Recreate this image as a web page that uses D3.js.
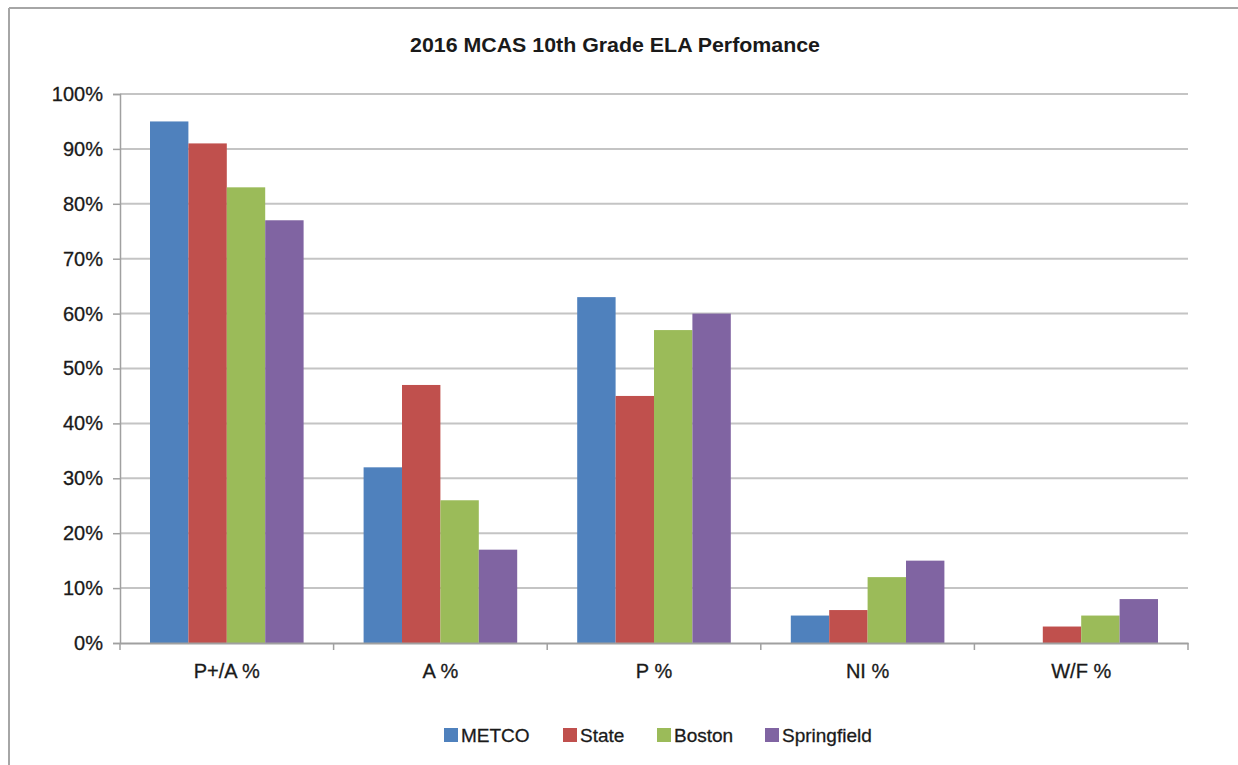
<!DOCTYPE html>
<html>
<head>
<meta charset="utf-8">
<script src="https://cdn.jsdelivr.net/npm/d3@7"></script>
<style>
  body { margin: 0; background: #fff; }
  text { font-family: "Liberation Sans", Arial, sans-serif; fill: #1a1a1a; }
</style>
</head>
<body>
<svg id="chart"></svg>
<script>
const categories = ['P+/A %', 'A %', 'P %', 'NI %', 'W/F %'];
const seriesNames = ['METCO', 'State', 'Boston', 'Springfield'];
const metco = [95, 32, 63, 5, 0];
const state = [91, 47, 45, 6, 3];
const boston = [83, 26, 57, 12, 5];
const springfield = [77, 17, 60, 15, 8];
const yTicks = [0, 10, 20, 30, 40, 50, 60, 70, 80, 90, 100];
const colors = ['#4F81BD', '#C0504D', '#9BBB59', '#8064A2'];

const seriesValues = [metco, state, boston, springfield];
const data = categories.map((c, i) => ({
  cat: c,
  vals: seriesNames.map((s, j) => ({ name: s, value: seriesValues[j][i] }))
}));

const width = 1238, height = 765;
const margin = { top: 94, right: 50, bottom: 122, left: 120 };
const font = '"Liberation Sans", Arial, sans-serif';

const svg = d3.select('#chart')
  .attr('width', width)
  .attr('height', height);

// outer frame (top and left edges visible)
svg.append('line').attr('x1', 9).attr('x2', width).attr('y1', 8).attr('y2', 8)
  .attr('stroke', '#a6a6a6').attr('stroke-width', 2);
svg.append('line').attr('x1', 9).attr('x2', 9).attr('y1', 8).attr('y2', height)
  .attr('stroke', '#a6a6a6').attr('stroke-width', 2);

svg.append('text')
  .attr('x', 615).attr('y', 52)
  .attr('text-anchor', 'middle')
  .attr('font-size', 20).attr('font-weight', 'bold')
  .attr('textLength', 410).attr('lengthAdjust', 'spacingAndGlyphs')
  .text('2016 MCAS 10th Grade ELA Perfomance');

const g = svg.append('g').attr('transform', `translate(${margin.left},${margin.top})`);
const w = width - margin.left - margin.right;
const h = height - margin.top - margin.bottom;

const x0 = d3.scaleBand().domain(categories).range([0, w]).paddingInner(0).paddingOuter(0);
const x1 = d3.scaleBand().domain(seriesNames).range([30, x0.bandwidth() - 30]).padding(0);
const y = d3.scaleLinear().domain([0, 100]).range([h, 0]);

// gridlines
g.append('g')
  .selectAll('line')
  .data(yTicks.filter(t => t > 0))
  .enter().append('line')
  .attr('x1', 0).attr('x2', w)
  .attr('y1', d => y(d)).attr('y2', d => y(d))
  .attr('stroke', '#c4c4c4').attr('stroke-width', 2);

// y axis
const yAxis = g.append('g')
  .call(d3.axisLeft(y).tickValues(yTicks).tickFormat(d => d + '%').tickSize(7).tickPadding(10));
yAxis.select('.domain').attr('stroke', '#a0a0a0').attr('stroke-width', 1.5);
yAxis.selectAll('.tick line').attr('stroke', '#a0a0a0').attr('stroke-width', 1.5);
yAxis.selectAll('.tick text').attr('font-size', 20).attr('fill', '#1a1a1a')
  .attr('font-family', font).attr('stroke', '#1a1a1a').attr('stroke-width', 0.3);

// bars
const groups = g.selectAll('.grp')
  .data(data)
  .enter().append('g')
  .attr('transform', d => `translate(${x0(d.cat)},0)`);

groups.selectAll('rect')
  .data(d => d.vals)
  .enter().append('rect')
  .attr('x', d => x1(d.name))
  .attr('width', x1.bandwidth())
  .attr('y', d => y(d.value))
  .attr('height', d => h - y(d.value))
  .attr('fill', (d, i) => colors[i]);

// x axis
const xAxis = g.append('g').attr('transform', `translate(0,${h})`)
  .call(d3.axisBottom(x0).tickSize(0).tickPadding(21));
xAxis.select('.domain').attr('stroke', '#a0a0a0').attr('stroke-width', 2);
xAxis.selectAll('.tick text').attr('font-size', 20).attr('fill', '#1a1a1a')
  .attr('font-family', font).attr('stroke', '#1a1a1a').attr('stroke-width', 0.3);
xAxis.selectAll('.sep')
  .data(d3.range(categories.length + 1))
  .enter().append('line')
  .attr('x1', i => i * x0.step()).attr('x2', i => i * x0.step())
  .attr('y1', 0).attr('y2', 7)
  .attr('stroke', '#a0a0a0').attr('stroke-width', 1.5);

// legend
const legendX = [444, 563, 657, 765];
const legend = svg.append('g').attr('transform', 'translate(0,735)');
const item = legend.selectAll('g')
  .data(seriesNames)
  .enter().append('g')
  .attr('transform', (d, i) => `translate(${legendX[i]},0)`);
item.append('rect')
  .attr('x', 0).attr('y', -7).attr('width', 14).attr('height', 14)
  .attr('fill', (d, i) => colors[i]);
item.append('text')
  .attr('x', 17).attr('y', 7)
  .attr('font-size', 19)
  .attr('stroke', '#1a1a1a').attr('stroke-width', 0.3)
  .text(d => d);
</script>
</body>
</html>
